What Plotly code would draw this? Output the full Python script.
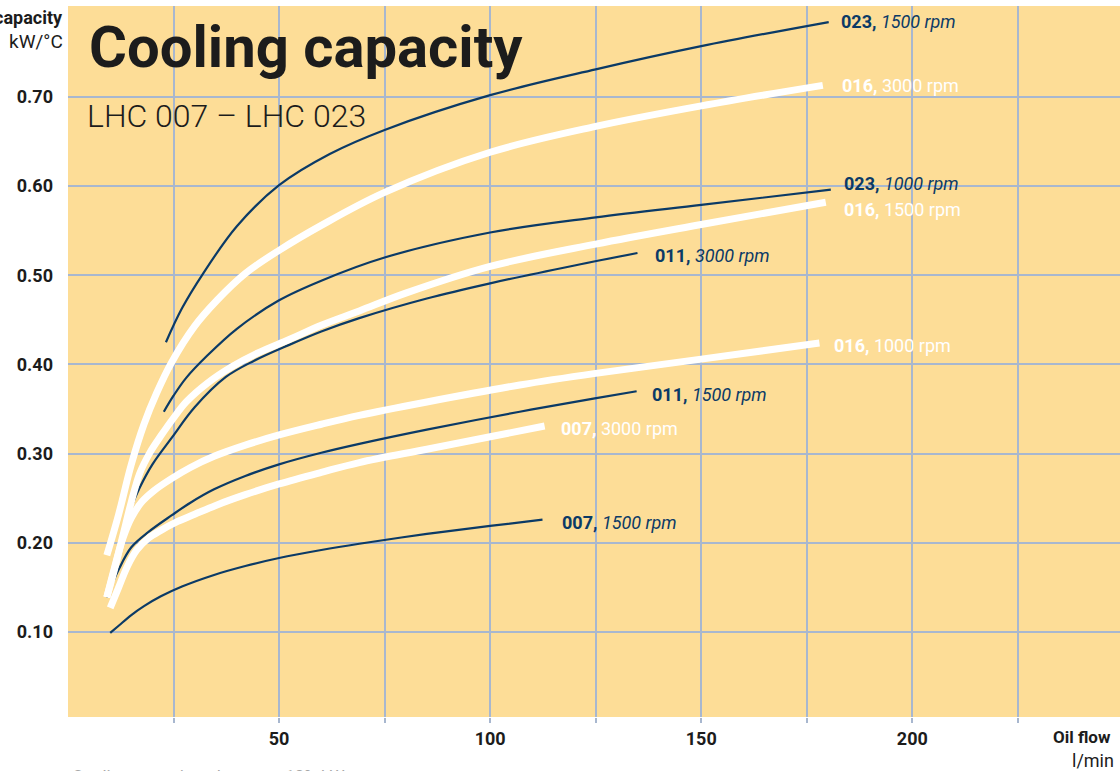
import plotly.graph_objects as go

# ---------------- data ----------------
x_023_1500 = [23.2, 27, 32, 40, 50, 62, 75, 100, 125, 150, 180.2]
y_023_1500 = [0.425, 0.463, 0.502, 0.555, 0.601, 0.636, 0.663, 0.702, 0.731, 0.757, 0.784]

x_016_3000 = [9.2, 12, 15, 18, 21, 24.5, 30, 35.3, 42, 50, 60, 75, 100, 125, 150, 178.8]
y_016_3000 = [0.186, 0.232, 0.288, 0.333, 0.368, 0.402, 0.443, 0.472, 0.502, 0.528, 0.556, 0.593, 0.638, 0.667, 0.690, 0.713]

x_023_1000 = [22.7, 25, 28, 33, 40, 50, 60, 75, 100, 125, 150, 180.7]
y_023_1000 = [0.347, 0.365, 0.385, 0.410, 0.440, 0.472, 0.494, 0.520, 0.548, 0.565, 0.579, 0.596]

x_016_1500 = [9.2, 11, 13, 15, 17, 19.5, 22, 25, 28, 33, 39, 45, 52.4, 60, 69, 80, 100, 125, 150, 179.5]
y_016_1500 = [0.139, 0.170, 0.208, 0.246, 0.278, 0.302, 0.320, 0.340, 0.358, 0.379, 0.398, 0.413, 0.428, 0.444, 0.460, 0.480, 0.510, 0.535, 0.557, 0.582]

x_011_3000 = [9.2, 11, 13, 15, 17, 20, 24.6, 30, 37.4, 44, 52.4, 60, 69, 85, 100, 120, 134.9]
y_011_3000 = [0.139, 0.175, 0.212, 0.240, 0.262, 0.288, 0.318, 0.352, 0.386, 0.404, 0.422, 0.437, 0.452, 0.474, 0.491, 0.511, 0.525]

x_016_1000 = [9.2, 11, 13, 15, 17.5, 20.5, 24.5, 29, 34.6, 42, 50, 60, 69, 85, 107, 125, 150, 178]
y_016_1000 = [0.139, 0.172, 0.205, 0.228, 0.246, 0.259, 0.272, 0.2845, 0.297, 0.3095, 0.321, 0.333, 0.343, 0.358, 0.377, 0.390, 0.406, 0.424]

x_011_1500 = [9.2, 12, 15, 19, 24.6, 29, 34.6, 42, 50, 60, 69, 85, 107, 124.8, 134.7]
y_011_1500 = [0.139, 0.170, 0.195, 0.212, 0.231, 0.245, 0.260, 0.275, 0.288, 0.301, 0.311, 0.327, 0.347, 0.362, 0.370]

x_007_3000 = [10, 12, 14, 16.3, 19, 22, 26, 30, 35, 42, 50, 60, 69, 85, 100, 112.9]
y_007_3000 = [0.127, 0.150, 0.173, 0.192, 0.205, 0.214, 0.224, 0.232, 0.242, 0.254, 0.266, 0.279, 0.290, 0.305, 0.319, 0.331]

x_007_1500 = [10, 12, 15, 18, 22, 27, 34.6, 42, 50, 60, 69, 85, 100, 112.4]
y_007_1500 = [0.099, 0.107, 0.119, 0.129, 0.140, 0.151, 0.164, 0.174, 0.183, 0.192, 0.199, 0.210, 0.219, 0.226]

# series: (x, y, kind, model, rpm, xshift, yshift)
series = [
    (x_023_1500, y_023_1500, "navy", "023", "1500 rpm", 10, 1),
    (x_023_1000, y_023_1000, "navy", "023", "1000 rpm", 11, 6),
    (x_011_3000, y_011_3000, "navy", "011", "3000 rpm", 16, -2),
    (x_011_1500, y_011_1500, "navy", "011", "1500 rpm", 13, -3),
    (x_007_1500, y_007_1500, "navy", "007", "1500 rpm", 17, -3),
    (x_016_3000, y_016_3000, "white", "016", "3000 rpm", 17, 0),
    (x_016_1500, y_016_1500, "white", "016", "1500 rpm", 16, -7),
    (x_016_1000, y_016_1000, "white", "016", "1000 rpm", 13, -2),
    (x_007_3000, y_007_3000, "white", "007", "3000 rpm", 14, -2),
]

x_ticks = [25, 50, 75, 100, 125, 150, 175, 200, 225]
x_ticktext = ["", "50", "", "100", "", "150", "", "200", ""]
y_ticks = [0.1, 0.2, 0.3, 0.4, 0.5, 0.6, 0.7]
y_ticktext = ["0.10", "0.20", "0.30", "0.40", "0.50", "0.60", "0.70"]

# ---------------- styling ----------------
NAVY = "#0b3a66"
BG = "#fddd97"
GRID = "#a8b7cf"
DARK = "#1c1c1c"
FONT = "Roboto"

fig = go.Figure()

for xs, ys, kind, model, rpm, dx, dy in series:
    if kind == "navy":
        fig.add_trace(go.Scatter(x=xs, y=ys, mode="lines",
                                 line=dict(color=NAVY, width=2.2, shape="spline", smoothing=1.0),
                                 hoverinfo="skip", showlegend=False))
for xs, ys, kind, model, rpm, dx, dy in series:
    if kind == "white":
        fig.add_trace(go.Scatter(x=xs, y=ys, mode="lines",
                                 line=dict(color="white", width=7, shape="spline", smoothing=1.0),
                                 hoverinfo="skip", showlegend=False))

for xs, ys, kind, model, rpm, dx, dy in series:
    if kind == "navy":
        txt = f"<b>{model},</b> <i>{rpm}</i>"
        col = NAVY
    else:
        txt = f"<b>{model},</b> {rpm}"
        col = "white"
    fig.add_annotation(x=xs[-1], y=ys[-1], xref="x", yref="y", text=txt,
                       showarrow=False, xanchor="left", yanchor="middle",
                       xshift=dx, yshift=dy, font=dict(family=FONT, size=18, color=col))

# titles and axis captions
fig.add_annotation(x=0.018, y=0.943, xref="paper", yref="paper", text="<b>Cooling capacity</b>",
                   showarrow=False, xanchor="left", yanchor="middle",
                   font=dict(family=FONT, size=58, color=DARK))
fig.add_annotation(x=0.0162, y=0.8453, xref="paper", yref="paper", text="LHC 007 – LHC 023",
                   showarrow=False, xanchor="left", yanchor="middle",
                   font=dict(family=FONT, size=32, color=DARK, weight=300))
fig.add_annotation(x=-0.0029, y=0.9845, xref="paper", yref="paper", text="<b>capacity</b>",
                   showarrow=False, xanchor="right", yanchor="middle",
                   font=dict(family=FONT, size=18, color=DARK))
fig.add_annotation(x=-0.0029, y=0.9494, xref="paper", yref="paper", text="kW/°C",
                   showarrow=False, xanchor="right", yanchor="middle",
                   font=dict(family=FONT, size=19, color=DARK))
fig.add_annotation(x=0.9933, y=-0.0281, xref="paper", yref="paper", text="<b>Oil flow</b>",
                   showarrow=False, xanchor="right", yanchor="middle",
                   font=dict(family=FONT, size=17, color=DARK))
fig.add_annotation(x=0.9962, y=-0.0605, xref="paper", yref="paper", text="l/min",
                   showarrow=False, xanchor="right", yanchor="middle",
                   font=dict(family=FONT, size=18, color=DARK))
fig.add_annotation(x=0.0019, y=-0.083, xref="paper", yref="paper",
                   text="Cooling capacity tolerance ±10% kW",
                   showarrow=False, xanchor="left", yanchor="middle",
                   font=dict(family=FONT, size=17, color="#a6a6a6"))

fig.update_xaxes(range=[0, 249.2], tickvals=x_ticks, ticktext=x_ticktext,
                 showgrid=True, gridcolor=GRID, gridwidth=2, zeroline=False, showline=False,
                 ticks="outside", ticklen=5, tickwidth=2, tickcolor=GRID,
                 tickfont=dict(family=FONT, size=18, color=DARK, weight="bold"),
                 ticklabelstandoff=0, fixedrange=True)
fig.update_yaxes(range=[0.0047, 0.802], tickvals=y_ticks, ticktext=y_ticktext,
                 showgrid=True, gridcolor=GRID, gridwidth=2, zeroline=False, showline=False,
                 ticks="", tickfont=dict(family=FONT, size=18, color=DARK, weight="bold"),
                 ticklabelstandoff=14, fixedrange=True)

fig.update_layout(width=1120, height=771, margin=dict(l=68, r=0, t=6, b=54),
                  paper_bgcolor="white", plot_bgcolor=BG, showlegend=False)

fig.write_html("out.html", config={"displayModeBar": False},
               post_script="document.body.style.margin='0px';")
